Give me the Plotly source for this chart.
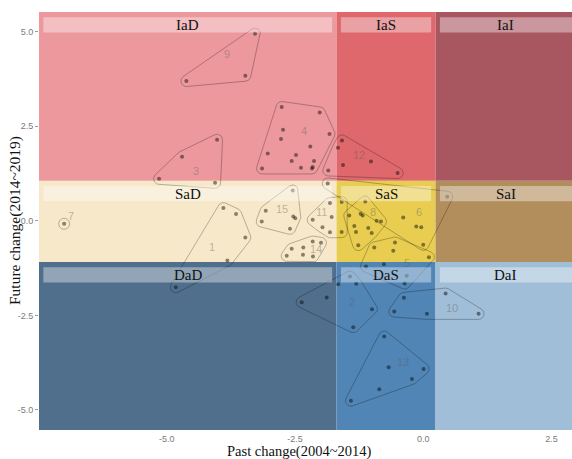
import math
import plotly.graph_objects as go

# ---------------- data ----------------
pts_x = [-3.896, -3.649, -3.468, -3.818, -4.824,
         -1.428, -1.656, -1.305, -2.369, -1.882, -0.999, -1.364,
         -4.019, -4.701, -5.149, -4.058,
         -2.759, -2.018, -2.733, -2.772, -1.827, -2.201, -3.031, -2.480, -2.564, -2.129, -2.383, -2.155, -2.168, -3.142,
         -0.955, -0.551, -0.584, -1.116, -0.766, -0.323, -0.362, 0.111,
         -1.862, 0.468, -0.390, -0.136, -0.039, 0.000,
         -7.000,
         -1.130, -1.220, -1.181, -1.344, -0.908, -0.824, -1.311, -1.072, -1.005, -1.266, -1.442,
         -3.279, -3.468, -4.617,
         -0.376, -0.565, 0.072, 0.436, 1.079,
         -1.818, -1.785, -2.155, -1.964, -1.818, -1.590, -1.590,
         -1.584, -1.662, -1.564, -1.019, -0.499, -1.851,
         -0.760, -0.674, 0.008, -0.220, -0.857, -1.409,
         -2.155, -1.993, -2.564, -2.338, -2.661, -2.344, -2.149,
         -2.544, -3.070, -2.533, -2.494, -3.148, -2.597]
pts_y = [0.336, 0.177, -0.442, -1.050, -1.754,
         -1.474, -1.675, -1.667, -2.151, -2.029, -2.336, -2.812,
         2.143, 1.693, 1.111, 1.005,
         3.008, 2.865, 2.407, 2.161, 2.296, 1.966, 1.780, 1.738, 1.579, 1.579, 1.402, 1.421, 1.384, 1.384,
         -0.706, -0.574, -0.794, -1.209, -1.146, -1.455, -1.659, -0.960,
         0.987, 0.635, 0.087, -0.151, -0.167, -0.635,
         -0.079,
         0.511, 0.185, 0.140, -0.140, 0.000, -0.019, -0.299, -0.193, -0.325, -0.643, 0.140,
         4.947, 3.836, 3.696,
         -2.037, -2.399, -2.460, -1.923, -2.460,
         0.468, 0.098, 0.026, -0.172, -0.304, 0.495, -0.299,
         2.124, 1.931, 1.474, 1.569, 1.262, 1.331,
         -3.061, -3.870, -3.915, -4.180, -4.452, -4.754,
         -0.548, -0.582, -0.741, -0.706, -0.926, -0.899, -0.944,
         0.802, 0.265, 0.114, 0.071, -0.019, -0.212]
pts_cluster = ([1] * 5 + [2] * 7 + [3] * 4 + [4] * 14 + [5] * 8 + [6] * 6 + [7] * 1 +
               [8] * 11 + [9] * 3 + [10] * 5 + [11] * 7 + [12] * 6 + [13] * 6 + [14] * 7 + [15] * 6)

label_text = ["1", "2", "3", "4", "5", "6", "7", "8", "9", "10", "11", "12", "13", "14", "15"]
label_x = [-4.122, -1.395, -4.428, -2.330, -0.323, -0.074, -6.863, -0.974, -3.824, 0.553, -1.979, -1.253, -0.401, -2.090, -2.759]
label_y = [-0.680, -2.135, 1.323, 2.373, -1.111, 0.238, 0.140, 0.246, 4.418, -2.310, 0.230, 1.738, -3.722, -0.749, 0.310]

x_breaks = [-7.49, -1.69, 0.24, 2.90]
y_breaks = [-5.53, -1.09, 1.06, 5.52]
col_codes = ["D", "S", "I"]
row_codes = ["Da", "Sa", "Ia"]
region_colors = {
    "IaD": "#ec989d", "IaS": "#de686c", "IaI": "#a85761",
    "SaD": "#f6e8c8", "SaS": "#e8cd50", "SaI": "#b28e5c",
    "DaD": "#506f8c", "DaS": "#5085b6", "DaI": "#a0bed8",
}

x_ticks = [-5.0, -2.5, 0.0, 2.5]
y_ticks = [-5.0, -2.5, 0.0, 2.5, 5.0]

# ---------------- geometry helpers ----------------
W, H = 572, 459
ML, MR, MT, MB = 39, 0, 12, 29
PW, PH = W - ML - MR, H - MT - MB
XR = [x_breaks[0], x_breaks[-1]]
YR = [y_breaks[0], y_breaks[-1]]
SX = PW / (XR[1] - XR[0])
SY = PH / (YR[1] - YR[0])


def convex_hull(p):
    p = sorted(set(p))
    if len(p) <= 2:
        return p

    def cross(o, a, b):
        return (a[0] - o[0]) * (b[1] - o[1]) - (a[1] - o[1]) * (b[0] - o[0])
    lower, upper = [], []
    for q in p:
        while len(lower) >= 2 and cross(lower[-2], lower[-1], q) <= 0:
            lower.pop()
        lower.append(q)
    for q in reversed(p):
        while len(upper) >= 2 and cross(upper[-2], upper[-1], q) <= 0:
            upper.pop()
        upper.append(q)
    return lower[:-1] + upper[:-1]


def expanded_hull(xs, ys, r=5.5, nseg=10):
    P = [((x - XR[0]) * SX, (y - YR[0]) * SY) for x, y in zip(xs, ys)]
    hv = convex_hull(P)
    out = []
    if len(hv) == 1:
        cx, cy = hv[0]
        for k in range(41):
            a = 2 * math.pi * k / 40
            out.append((cx + r * math.cos(a), cy + r * math.sin(a)))
    else:
        n = len(hv)
        for i in range(n):
            pp, pc, pn = hv[i - 1], hv[i], hv[(i + 1) % n]
            d1 = (pc[0] - pp[0], pc[1] - pp[1])
            d2 = (pn[0] - pc[0], pn[1] - pc[1])
            a0 = math.atan2(-d1[0], d1[1])
            a1 = math.atan2(-d2[0], d2[1])
            while a1 < a0:
                a1 += 2 * math.pi
            for k in range(nseg + 1):
                a = a0 + (a1 - a0) * k / nseg
                out.append((pc[0] + r * math.cos(a), pc[1] + r * math.sin(a)))
        out.append(out[0])
    return [XR[0] + X / SX for X, _ in out], [YR[0] + Y / SY for _, Y in out]


# ---------------- figure ----------------
fig = go.Figure()

shapes = []
for ri, rc in enumerate(row_codes):
    for ci, cc in enumerate(col_codes):
        name = rc + cc
        shapes.append(dict(type="rect", layer="below", xref="x", yref="y",
                           x0=x_breaks[ci], x1=x_breaks[ci + 1],
                           y0=y_breaks[ri], y1=y_breaks[ri + 1],
                           fillcolor=region_colors[name], line=dict(width=0)))

shapes.append(dict(type="line", layer="below", xref="x", yref="paper", x0=0, x1=0, y0=0, y1=1,
                   line=dict(color="rgba(0,0,0,0.3)", width=0.8, dash="dash")))
shapes.append(dict(type="line", layer="below", xref="paper", yref="y", x0=0, x1=1, y0=0, y1=0,
                   line=dict(color="rgba(0,0,0,0.3)", width=0.8, dash="dash")))

# hulls
hx, hy = [], []
for c in sorted(set(pts_cluster)):
    xs = [x for x, k in zip(pts_x, pts_cluster) if k == c]
    ys = [y for y, k in zip(pts_y, pts_cluster) if k == c]
    ex, ey = expanded_hull(xs, ys)
    hx += ex + [None]
    hy += ey + [None]
fig.add_trace(go.Scatter(x=hx, y=hy, mode="lines", hoverinfo="skip",
                         line=dict(color="rgba(0,0,0,0.33)", width=0.8)))

fig.add_trace(go.Scatter(x=pts_x, y=pts_y, mode="markers",
                         marker=dict(size=4, color="rgba(0,0,0,0.45)", line=dict(width=0))))

annotations = []
for t, x, y in zip(label_text, label_x, label_y):
    annotations.append(dict(x=x, y=y, xref="x", yref="y", text=t, showarrow=False,
                            font=dict(family="Liberation Sans", size=11, color="rgba(90,90,90,0.4)")))

# banners
bx_in = 0.085
by_in = 0.14
bh = 0.40
for ri, rc in enumerate(row_codes):
    for ci, cc in enumerate(col_codes):
        name = rc + cc
        x0 = x_breaks[ci] + bx_in
        x1 = x_breaks[ci + 1] - (bx_in if ci < 2 else 0)
        y1 = y_breaks[ri + 1] - by_in
        y0 = y1 - bh
        shapes.append(dict(type="rect", layer="above", xref="x", yref="y",
                           x0=x0, x1=x1, y0=y0, y1=y1,
                           fillcolor="rgba(255,255,255,0.38)", line=dict(width=0)))
        annotations.append(dict(x=(x0 + x1) / 2, y=(y0 + y1) / 2, xref="x", yref="y",
                                text=name, showarrow=False,
                                font=dict(family="Liberation Serif", size=15, color="#111111")))

annotations.append(dict(xref="paper", yref="paper", x=(299 - ML) / PW, y=(H - 451 - MB) / PH,
                        xanchor="center", yanchor="middle", text="Past change(2004~2014)",
                        showarrow=False, font=dict(family="Liberation Serif", size=14.5, color="#111111")))
annotations.append(dict(xref="paper", yref="paper", x=(15 - ML) / PW, y=(H - 221 - MB) / PH,
                        xanchor="center", yanchor="middle", text="Future change(2014~2019)",
                        showarrow=False, textangle=-90,
                        font=dict(family="Liberation Serif", size=15.5, color="#111111")))

fig.update_layout(
    width=W, height=H,
    margin=dict(l=ML, r=MR, t=MT, b=MB, pad=0),
    paper_bgcolor="white", plot_bgcolor="white",
    showlegend=False,
    shapes=shapes, annotations=annotations,
    xaxis=dict(range=XR, showgrid=False, zeroline=False, showline=False,
               tickvals=x_ticks, ticktext=["%.1f" % v for v in x_ticks],
               ticks="outside", ticklen=0, tickcolor="#999999",
               tickfont=dict(family="Liberation Sans", size=9, color="#7a7a7a")),
    yaxis=dict(range=YR, showgrid=False, zeroline=False, showline=False,
               tickvals=y_ticks, ticktext=["%.1f" % v for v in y_ticks],
               ticks="outside", ticklen=3, tickcolor="#999999",
               tickfont=dict(family="Liberation Sans", size=9, color="#7a7a7a")),
)

fig.write_html("out.html", config={"displayModeBar": False},
               post_script="document.body.style.margin='0';document.body.style.overflow='hidden';")
